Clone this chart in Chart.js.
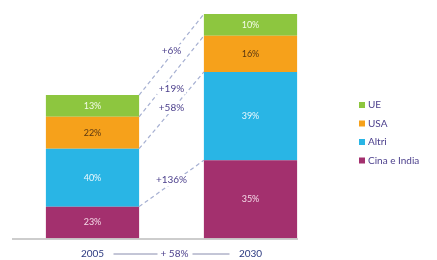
<!DOCTYPE html>
<html>
<head>
<meta charset="utf-8">
<script src="https://cdn.jsdelivr.net/npm/chart.js@4/dist/chart.umd.min.js"></script>
<style>
  html, body { margin: 0; padding: 0; background: #fff; }
  #wrap { width: 437px; height: 260px; position: relative; }
</style>
</head>
<body>
<div id="wrap"><canvas id="c" width="437" height="260"></canvas></div>
<script>
// anni
const years = ['2005', '2030'];
// valori indicizzati (2005 ≈ 100), stimati dall'altezza delle barre
const cina = [22, 54];
const altri = [40, 61];
const usa = [22, 25];
const ue = [15, 15];
// etichette percentuali dentro le barre
const cinaPct = ['23%', '35%'];
const altriPct = ['40%', '39%'];
const usaPct = ['22%', '16%'];
const uePct = ['13%', '10%'];
// crescita per segmento (dal basso: Cina, Altri, USA, UE) e totale
const growth = ['+136%', '+58%', '+19%', '+6%'];
const growthPos = [0.57, 0.53, 0.35, 0.55];
const totalGrowth = '+ 58%';

const FONT = 'Lato, "Open Sans", sans-serif';
const TEXT = '#4b3f8c';

const datasets = [
  { label: 'Cina e India', data: cina, pct: cinaPct, backgroundColor: '#a3306e', txt: '#f4dbe8' },
  { label: 'Altri', data: altri, pct: altriPct, backgroundColor: '#29b5e5', txt: '#eaf8fd' },
  { label: 'USA', data: usa, pct: usaPct, backgroundColor: '#f6a11b', txt: '#5a3712' },
  { label: 'UE', data: ue, pct: uePct, backgroundColor: '#8dc63f', txt: '#f3fbe8' },
].map(d => ({ ...d, borderWidth: 0, barPercentage: 0.59, categoryPercentage: 1 }));

const extras = {
  id: 'extras',
  afterDatasetsDraw(chart) {
    const ctx = chart.ctx;
    const metas = chart.data.datasets.map((d, i) => chart.getDatasetMeta(i));

    // percentuali dentro i segmenti
    ctx.save();
    ctx.font = '9px ' + FONT;
    ctx.textAlign = 'center';
    ctx.textBaseline = 'middle';
    metas.forEach((m, i) => {
      const ds = chart.data.datasets[i];
      m.data.forEach((bar, j) => {
        ctx.fillStyle = ds.txt;
        ctx.fillText(ds.pct[j], bar.x, (bar.y + bar.base) / 2);
      });
    });
    ctx.restore();

    // linee tratteggiate di collegamento + crescita
    metas.forEach((m, i) => {
      const a = m.data[0], b = m.data[1];
      const x1 = a.x + a.width / 2, y1 = a.y;
      const x2 = b.x - b.width / 2, y2 = b.y;
      ctx.save();
      ctx.strokeStyle = '#a6b0d2';
      ctx.lineWidth = 1.2;
      ctx.setLineDash([4, 3]);
      ctx.beginPath();
      ctx.moveTo(x1, y1);
      ctx.lineTo(x2, y2);
      ctx.stroke();
      ctx.restore();

      const t = growthPos[i];
      const tx = (x1 + x2) / 2;
      const ty = y1 + (y2 - y1) * t;
      ctx.save();
      ctx.font = '10px ' + FONT;
      const w = ctx.measureText(growth[i]).width;
      ctx.fillStyle = '#fff';
      ctx.fillRect(tx - w / 2 - 2, ty - 6, w + 4, 12);
      ctx.fillStyle = TEXT;
      ctx.textAlign = 'center';
      ctx.textBaseline = 'middle';
      ctx.fillText(growth[i], tx, ty);
      ctx.restore();
    });

    // linea di base
    const area = chart.chartArea;
    ctx.save();
    ctx.strokeStyle = '#bdbdbd';
    ctx.lineWidth = 1.5;
    ctx.beginPath();
    ctx.moveTo(12, area.bottom + 0.5);
    ctx.lineTo(298, area.bottom + 0.5);
    ctx.stroke();

    // etichette anni e crescita totale
    const xs = chart.scales.x;
    const ly = area.bottom + 15;
    ctx.font = '10px ' + FONT;
    ctx.fillStyle = '#2c3a80';
    ctx.textAlign = 'center';
    ctx.textBaseline = 'middle';
    years.forEach((y, j) => ctx.fillText(y, xs.getPixelForValue(j), ly));
    const p0 = xs.getPixelForValue(0), p1 = xs.getPixelForValue(1);
    const mid = (p0 + p1) / 2 + 3;
    ctx.fillStyle = TEXT;
    ctx.fillText(totalGrowth, mid, ly);
    const tw = ctx.measureText(totalGrowth).width;
    ctx.strokeStyle = '#6a6f9a';
    ctx.lineWidth = 0.8;
    ctx.beginPath();
    ctx.moveTo(p0 + 21, ly + 0.5);
    ctx.lineTo(mid - tw / 2 - 3, ly + 0.5);
    ctx.moveTo(mid + tw / 2 + 4, ly + 0.5);
    ctx.lineTo(p1 - 21, ly + 0.5);
    ctx.stroke();
    ctx.restore();

    // legenda (UE in alto)
    ctx.save();
    ctx.font = '10px ' + FONT;
    ctx.textBaseline = 'middle';
    chart.data.datasets.slice().reverse().forEach((d, k) => {
      const yy = 105 + k * 18.5;
      ctx.fillStyle = d.backgroundColor;
      ctx.fillRect(359, yy - 3, 6, 6);
      ctx.fillStyle = TEXT;
      ctx.fillText(d.label, 368, yy);
    });
    ctx.restore();
  }
};

new Chart(document.getElementById('c'), {
  type: 'bar',
  data: { labels: years, datasets },
  options: {
    responsive: false,
    animation: false,
    layout: { padding: { left: 13.5, right: 107.5, top: 14, bottom: 21.5 } },
    plugins: { legend: { display: false }, tooltip: { enabled: false } },
    scales: {
      x: { stacked: true, display: false },
      y: { stacked: true, display: false, min: 0, max: 155 },
    },
  },
  plugins: [extras],
});
</script>
</body>
</html>
